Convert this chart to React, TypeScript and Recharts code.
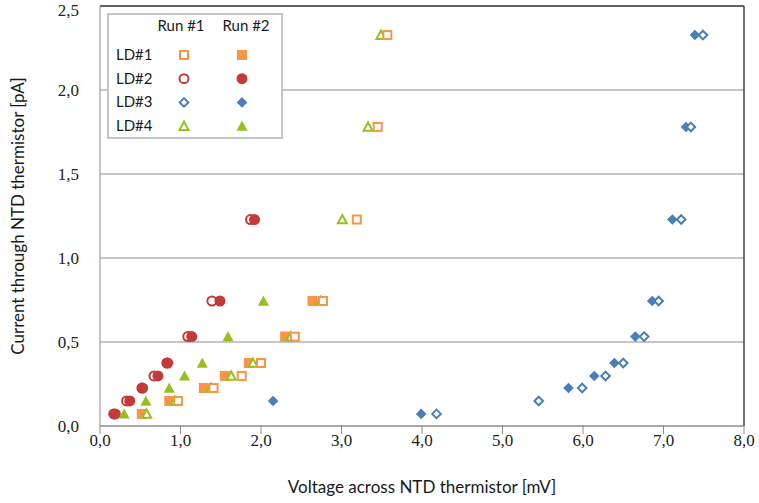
import React from 'react';
import {
  ScatterChart, Scatter, XAxis, YAxis, CartesianGrid, ReferenceLine, Legend, Label,
} from 'recharts';

// current levels shared by every run [pA]
const CURRENT = [0.072, 0.149, 0.226, 0.298, 0.375, 0.532, 0.744, 1.229, 1.78, 2.327];

// voltage across the thermistor [mV], null = no point at that level
const LD1_RUN1 = [null, 0.97, 1.41, 1.76, 2.0, 2.42, 2.77, 3.19, 3.45, 3.57];
const LD1_RUN2 = [0.52, 0.86, 1.29, 1.55, 1.85, 2.3, 2.64, null, null, null];
const LD2_RUN1 = [0.17, 0.33, 0.52, 0.67, 0.83, 1.09, 1.39, 1.87, null, null];
const LD2_RUN2 = [0.19, 0.37, 0.53, 0.72, 0.84, 1.14, 1.49, 1.92, null, null];
const LD3_RUN1 = [4.18, 5.45, 5.99, 6.28, 6.5, 6.76, 6.94, 7.22, 7.34, 7.49];
const LD3_RUN2 = [3.99, 2.15, 5.82, 6.14, 6.39, 6.65, 6.86, 7.11, 7.28, 7.39];
const LD4_RUN1 = [0.58, 0.93, 1.38, 1.63, 1.9, 2.37, 2.74, 3.01, 3.33, 3.49];
const LD4_RUN2 = [0.3, 0.57, 0.86, 1.05, 1.27, 1.59, 2.03, null, null, null];

const X_TICKS = [0, 1, 2, 3, 4, 5, 6, 7, 8];
const Y_TICKS = [0, 0.5, 1, 1.5, 2, 2.5];

const ORANGE = '#f79646';
const RED = '#c23a3a';
const BLUE = '#4a7ebb';
const GREEN = '#94c11f';

const AXIS = '#8c8c8c';
const FRAME = '#404040';
const SANS = 'Lato, "Open Sans", sans-serif';
const SERIF = '"Liberation Serif", "DejaVu Serif", serif';

type Kind = 'square' | 'circle' | 'diamond' | 'triangle';

const toPoints = (volts: (number | null)[]) =>
  volts
    .map((v, i) => (v == null ? null : { x: v, y: CURRENT[i] }))
    .filter(Boolean) as { x: number; y: number }[];

const fmt = (v: number) => v.toFixed(1).replace('.', ',');

function Marker({ kind, color, open, cx, cy }: { kind: Kind; color: string; open: boolean; cx: number; cy: number }) {
  const fill = open ? '#fff' : color;
  const stroke = open ? color : 'none';
  const sw = open ? 2 : 0;
  if (kind === 'square') {
    const h = open ? 4 : 5;
    return <rect x={cx - h} y={cy - h} width={h * 2} height={h * 2} fill={fill} stroke={stroke} strokeWidth={sw} />;
  }
  if (kind === 'circle') {
    return <circle cx={cx} cy={cy} r={open ? 4.5 : 5.5} fill={fill} stroke={stroke} strokeWidth={sw} />;
  }
  if (kind === 'diamond') {
    const h = open ? 4.3 : 5.3;
    return (
      <polygon
        points={`${cx},${cy - h} ${cx + h},${cy} ${cx},${cy + h} ${cx - h},${cy}`}
        fill={fill} stroke={stroke} strokeWidth={sw}
      />
    );
  }
  const h = open ? 4.5 : 5.5;
  return (
    <polygon
      points={`${cx},${cy - h} ${cx + h},${cy + h * 0.85} ${cx - h},${cy + h * 0.85}`}
      fill={fill} stroke={stroke} strokeWidth={sw} strokeLinejoin="miter"
    />
  );
}

const shapeOf = (kind: Kind, color: string, open: boolean) => (p: any) =>
  <Marker kind={kind} color={color} open={open} cx={p.cx} cy={p.cy} />;

// drawing order follows the overlap seen in the picture
const SERIES = [
  { name: 'LD#2 Run #1', data: LD2_RUN1, kind: 'circle' as Kind, color: RED, open: true },
  { name: 'LD#2 Run #2', data: LD2_RUN2, kind: 'circle' as Kind, color: RED, open: false },
  { name: 'LD#1 Run #2', data: LD1_RUN2, kind: 'square' as Kind, color: ORANGE, open: false },
  { name: 'LD#3 Run #2', data: LD3_RUN2, kind: 'diamond' as Kind, color: BLUE, open: false },
  { name: 'LD#3 Run #1', data: LD3_RUN1, kind: 'diamond' as Kind, color: BLUE, open: true },
  { name: 'LD#4 Run #2', data: LD4_RUN2, kind: 'triangle' as Kind, color: GREEN, open: false },
  { name: 'LD#4 Run #1', data: LD4_RUN1, kind: 'triangle' as Kind, color: GREEN, open: true },
  { name: 'LD#1 Run #1', data: LD1_RUN1, kind: 'square' as Kind, color: ORANGE, open: true },
];

const LEGEND_ROWS = [
  { label: 'LD#1', kind: 'square' as Kind, color: ORANGE },
  { label: 'LD#2', kind: 'circle' as Kind, color: RED },
  { label: 'LD#3', kind: 'diamond' as Kind, color: BLUE },
  { label: 'LD#4', kind: 'triangle' as Kind, color: GREEN },
];

const LegendBox = () => (
  <div style={{ width: 176, height: 126, boxSizing: 'border-box', border: '2px solid #c4c4c4', background: '#fff' }}>
    <svg width={172} height={122} style={{ display: 'block', overflow: 'visible' }}>
      <text x={72} y={16} textAnchor="middle" fontFamily={SANS} fontSize={15} fill="#1a1a1a">Run #1</text>
      <text x={137} y={16} textAnchor="middle" fontFamily={SANS} fontSize={15} fill="#1a1a1a">Run #2</text>
      {LEGEND_ROWS.map((r, i) => {
        const cy = 40 + i * 23.7;
        return (
          <g key={r.label}>
            <text x={7} y={cy + 5} fontFamily={SANS} fontSize={15} fill="#1a1a1a">{r.label}</text>
            <Marker kind={r.kind} color={r.color} open cx={75} cy={cy} />
            <Marker kind={r.kind} color={r.color} open={false} cx={133} cy={cy} />
          </g>
        );
      })}
    </svg>
  </div>
);

const YTitle = (props: any) => {
  const vb = props.viewBox || { x: 0, y: 6, width: 100, height: 420 };
  const cx = vb.x + 17;
  const cy = vb.y + vb.height / 2;
  return (
    <text
      x={cx} y={cy} transform={`rotate(-90, ${cx}, ${cy})`} textAnchor="middle" dominantBaseline="central"
      fontFamily={SANS} fontSize={17} fill="#1a1a1a"
    >
      Current through NTD thermistor [pA]
    </text>
  );
};

export default function App() {
  return (
    <div style={{ position: 'absolute', left: 0, top: 0, width: 759, height: 503, background: '#fff' }}>
      <ScatterChart width={759} height={503} margin={{ top: 6, right: 15, left: 0, bottom: 0 }}>
        <CartesianGrid vertical={false} stroke={AXIS} />
        <XAxis
          type="number" dataKey="x" domain={[0, 8]} ticks={X_TICKS} tickFormatter={fmt}
          height={77} stroke={AXIS} tickSize={8} tickMargin={0}
          tick={{ fill: '#222', fontFamily: SERIF, fontSize: 17 }}
        >
          <Label
            value="Voltage across NTD thermistor [mV]" position="insideBottom" offset={10}
            style={{ fontFamily: SANS, fontSize: 17, fill: '#1a1a1a' }}
          />
        </XAxis>
        <YAxis
          type="number" dataKey="y" domain={[0, 2.5]} ticks={Y_TICKS} tickFormatter={fmt}
          width={100} stroke={AXIS} tickLine={false} tickSize={0} tickMargin={21}
          tick={{ fill: '#222', fontFamily: SERIF, fontSize: 17 }}
        >
          <Label content={YTitle} />
        </YAxis>
        <ReferenceLine y={2.5} stroke={FRAME} strokeWidth={1.5} />
        <ReferenceLine x={8} stroke={FRAME} strokeWidth={1.5} />
        {SERIES.map((s) => (
          <Scatter
            key={s.name} name={s.name} data={toPoints(s.data)}
            shape={shapeOf(s.kind, s.color, s.open)} isAnimationActive={false}
          />
        ))}
        <Legend
          layout="horizontal" verticalAlign="middle" align="center"
          wrapperStyle={{ left: 107, top: 13, width: 176, height: 126 }}
          content={() => <LegendBox />}
        />
      </ScatterChart>
    </div>
  );
}
